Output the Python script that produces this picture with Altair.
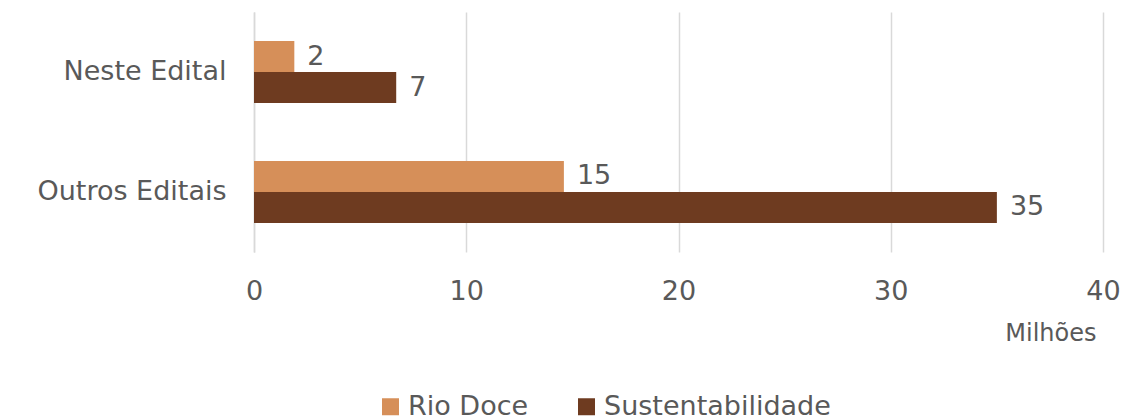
import altair as alt
import pandas as pd

categories = ["Neste Edital", "Neste Edital", "Outros Editais", "Outros Editais"]
series = ["Rio Doce", "Sustentabilidade", "Rio Doce", "Sustentabilidade"]
values = [1.9, 6.7, 14.6, 35.0]

series_order = ["Rio Doce", "Sustentabilidade"]
colors = ["#D68F59", "#6E3B20"]
x_ticks = [0, 10, 20, 30, 40]

df = pd.DataFrame({"cat": categories, "serie": series, "valor": values})

FONT = "DejaVu Sans"
TXT = "#595959"
FS = 27

base = alt.Chart(df).encode(
    y=alt.Y(
        "cat:N",
        sort=["Neste Edital", "Outros Editais"],
        scale=alt.Scale(paddingInner=0.483, paddingOuter=0.242),
        axis=alt.Axis(
            title=None,
            domain=True,
            domainColor="#d9d9d9",
            domainWidth=1.5,
            ticks=False,
            labelFontSize=FS,
            labelColor=TXT,
            labelFont=FONT,
            labelPadding=28,
            labelLimit=300,
            minExtent=246,
            maxExtent=246,
        ),
    ),
    yOffset=alt.YOffset("serie:N", sort=series_order, scale=alt.Scale(paddingInner=0, paddingOuter=0)),
    x=alt.X(
        "valor:Q",
        scale=alt.Scale(domain=[0, 40], nice=False),
        axis=alt.Axis(
            values=x_ticks,
            title="Milhões",
            titleAnchor="end",
            titleAlign="right",
            titleX=842,
            titleFontSize=24,
            titleFontWeight="normal",
            titleColor=TXT,
            titleFont=FONT,
            titlePadding=17,
            domain=False,
            ticks=False,
            grid=True,
            gridColor="#d9d9d9",
            gridWidth=1.5,
            labelFontSize=FS,
            labelColor=TXT,
            labelFont=FONT,
            labelPadding=26,
            labelFlush=False,
        ),
    ),
)

bars = base.mark_bar().encode(
    color=alt.Color(
        "serie:N",
        sort=series_order,
        scale=alt.Scale(domain=series_order, range=colors),
        legend=alt.Legend(
            title=None,
            orient="none",
            legendX=123,
            legendY=381,
            direction="horizontal",
            symbolType="square",
            symbolSize=289,
            symbolStrokeWidth=0,
            labelFontSize=FS,
            labelColor=TXT,
            labelFont=FONT,
            labelLimit=400,
            columnPadding=44,
            labelOffset=4,
        ),
    )
)

labels = base.mark_text(
    align="left", baseline="middle", dx=13, fontSize=FS, color=TXT, font=FONT
).encode(text=alt.Text("valor:Q", format=".0f"))

chart = (
    alt.layer(bars, labels)
    .properties(width=849, height=240, padding={"left": 0, "top": 4, "right": 0, "bottom": 0})
    .configure_view(stroke=None)
)

chart.save("out.html", embed_options={"renderer": "svg", "actions": False})
